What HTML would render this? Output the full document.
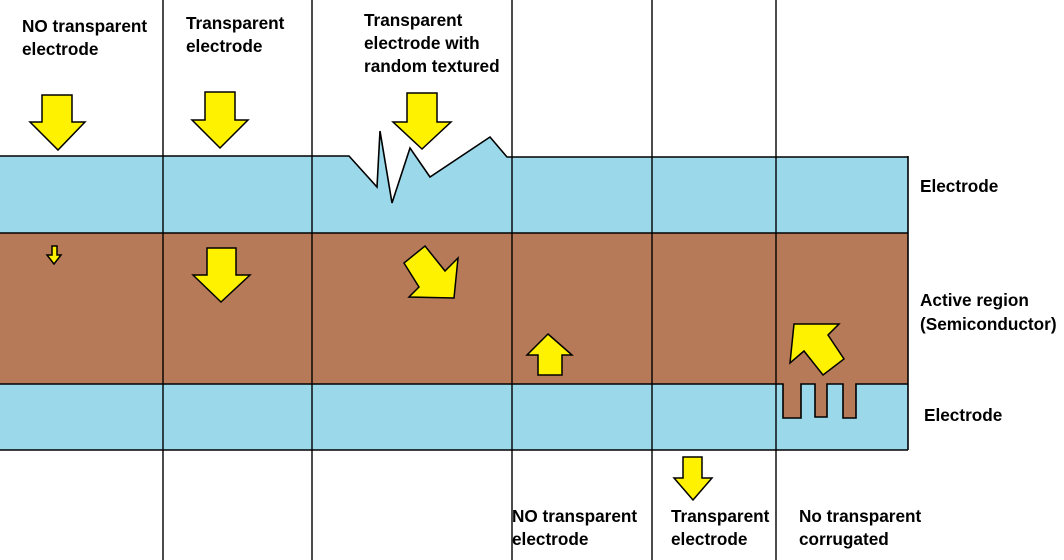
<!DOCTYPE html>
<html><head><meta charset="utf-8"><style>
body{margin:0;background:#fff}
svg{display:block}
text{font-family:"Liberation Sans",sans-serif;font-weight:bold;font-size:17.2px;fill:#000}
</style></head><body>
<svg width="1064" height="560" viewBox="0 0 1064 560" xmlns="http://www.w3.org/2000/svg">
<rect x="0" y="0" width="1064" height="560" fill="#fff"/>
<path d="M0,156 L349,156 L377,187 L380,131 L392,203 L410,148 L430,177 L490,137 L507,157 L908,157 L908,233 L0,233 Z" fill="#9bd9ea"/>
<polyline points="0,156 349,156 377,187 380,131 392,203 410,148 430,177 490,137 507,157 908,157" fill="none" stroke="#000" stroke-width="1.6"/>
<rect x="0" y="384" width="908" height="66" fill="#9bd9ea"/>
<polyline points="0,450 908,450" fill="none" stroke="#000" stroke-width="1.6"/>
<path d="M0,233 L908,233 L908,384 L856,384 L856,418 L843,418 L843,384 L827,384 L827,417 L815,417 L815,384 L801,384 L801,418 L783,418 L783,384 L0,384 Z" fill="#b77a58"/>
<line x1="0" y1="233" x2="908" y2="233" stroke="#000" stroke-width="1.6"/>
<polyline points="0,384 783,384 783,418 801,418 801,384 815,384 815,417 827,417 827,384 843,384 843,418 856,418 856,384 908,384" fill="none" stroke="#000" stroke-width="1.6"/>
<line x1="908" y1="156" x2="908" y2="450" stroke="#000" stroke-width="1.6"/>
<g stroke="#000" stroke-width="1.4">
<line x1="163" y1="0" x2="163" y2="560"/>
<line x1="312" y1="0" x2="312" y2="560"/>
<line x1="512" y1="0" x2="512" y2="560"/>
<line x1="652" y1="0" x2="652" y2="560"/>
<line x1="776" y1="0" x2="776" y2="560"/>
</g>
<g fill="#fff200" stroke="#000" stroke-width="1.5" stroke-linejoin="miter">
<polygon points="42,95 72,95 72,122 85,122 58,150 30,122 42,122"/>
<polygon points="205,92 235,92 235,120 248,120 220,148 192,120 205,120"/>
<polygon points="407,93 437,93 437,122 451,122 422,149 393,122 407,122"/>
<polygon points="52,246 57,246 57,255 61,255 54,264 47,255 52,255"/>
<polygon points="207,248 236,248 236,275 250,275 221,302 193,275 207,275"/>
<polygon points="425,246 445,271 458,258 454,298 409,297 419,287 404,263"/>
<polygon points="548,334 572,355 562,355 562,375 538,375 538,355 527,355"/>
<polygon points="794,324 839,324 828,335 844,359 823,375 804,351 790,363"/>
<polygon points="683,457 702,457 702,478 712,478 693,500 674,478 683,478"/>
</g>
<text x="22" y="32">NO transparent</text>
<text x="22" y="55">electrode</text>
<text x="186" y="29">Transparent</text>
<text x="186" y="52">electrode</text>
<text x="364" y="26">Transparent</text>
<text x="364" y="49">electrode with</text>
<text x="364" y="72">random textured</text>
<text x="920" y="192">Electrode</text>
<text x="920" y="306">Active region</text>
<text x="920" y="330">(Semiconductor)</text>
<text x="924" y="421">Electrode</text>
<text x="512" y="522">NO transparent</text>
<text x="512" y="545">electrode</text>
<text x="671" y="522">Transparent</text>
<text x="671" y="545">electrode</text>
<text x="799" y="522">No transparent</text>
<text x="799" y="545">corrugated</text>
</svg>
</body></html>
